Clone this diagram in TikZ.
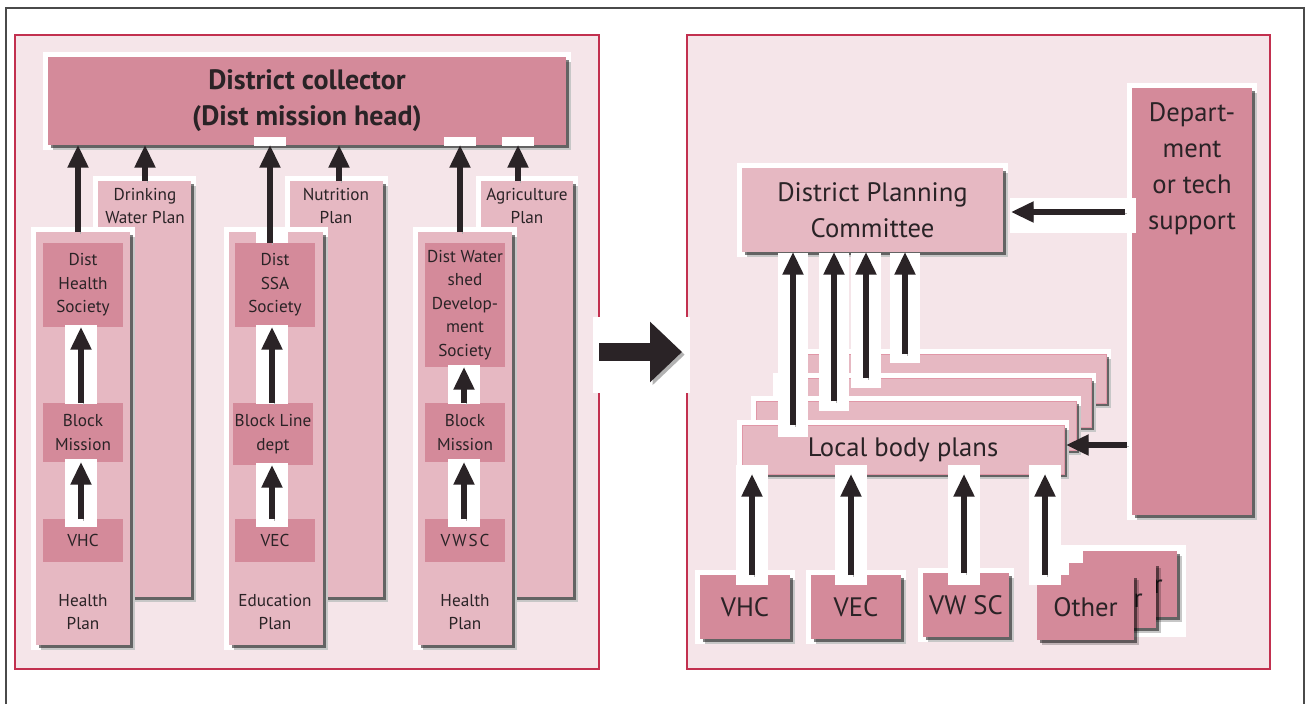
\documentclass[tikz,border=0pt]{standalone}
\usepackage{fontspec}
\setmainfont{PT Sans}
\usetikzlibrary{arrows.meta,shadows}

\definecolor{panelbg}{HTML}{F5E5E9}
\definecolor{panelred}{HTML}{C2304F}
\definecolor{darkpink}{HTML}{D48A9A}
\definecolor{lightpink}{HTML}{E6B8C2}
\definecolor{ink}{HTML}{2A2326}
\definecolor{framegray}{HTML}{4A4A4A}

\newcommand\fsmall{\fontsize{12.9}{17.6}\selectfont}
\newcommand\fhead{\fontsize{21}{27}\selectfont\bfseries}
\newcommand\fbig{\fontsize{20}{27}\selectfont}

% box from (x1,y1) to (x2,y2) in pixel units: style, name, x1, y1, x2, y2, text
\newcommand\bx[7]{\node[#1, minimum width={(#5-#3)*0.75pt}, minimum height={(#6-#4)*0.75pt}] (#2) at ({(#3+#5)/2},{(#4+#6)/2}) {#7};}
% white band behind an arrow: x, y1, y2, width
\newcommand\band[4]{\fill[white] ({#1-#4/2},#2) rectangle ({#1+#4/2},#3);}

\tikzset{
  boxbase/.style={rectangle, inner sep=0pt, outer sep=0pt, align=center, text=ink, font=\fsmall},
  halo/.style={preaction={draw=white, line width=8pt}},
  shade/.style={drop shadow={shadow xshift=4pt, shadow yshift=-4pt, fill=black, opacity=0.22},
                drop shadow={shadow xshift=2.6pt, shadow yshift=-2.6pt, fill=black, opacity=0.5}},
  innerbox/.style={boxbase, fill=darkpink},
  column/.style={boxbase, fill=lightpink, halo, shade},
  headbox/.style={boxbase, fill=darkpink, halo, shade, font=\fhead},
  bigbox/.style={boxbase, fill=lightpink, halo, shade, font=\fbig},
  deptbox/.style={boxbase, fill=darkpink, halo, shade, font=\fbig},
  layer/.style={boxbase, fill=lightpink, draw=panelred!50, line width=0.6pt, halo, shade, font=\fbig},
  unit/.style={boxbase, fill=darkpink, halo, shade, font=\fbig},
  stackunit/.style={boxbase, fill=darkpink, shade, font=\fbig},
  panel/.style={rectangle, inner sep=0pt, outer sep=0pt, fill=panelbg, draw=panelred, line width=1.1pt},
  arr/.style={draw=ink, line width=3.8pt, -{Triangle[width=15pt,length=17pt]},
              preaction={draw=black!30, transform canvas={xshift=1.6pt, yshift=-1.2pt}}},
  bigarr/.style={draw=ink, line width=13.5pt, -{Triangle[width=44pt,length=24pt]},
              preaction={draw=black!30, transform canvas={xshift=2pt, yshift=-2pt}}},
  lbl/.style={align=center, text=ink, font=\fsmall, inner sep=0pt},
}

\begin{document}
\begin{tikzpicture}[x=0.75pt, y=-0.75pt]
\useasboundingbox (0,0) rectangle (1306,704);

% outer frame
\draw[framegray, line width=1.2pt] (6,704) -- (6,8) -- (1304,8) -- (1304,704);

% panels
\bx{panel}{LP}{15}{35}{599}{669}{}
\bx{panel}{RP}{687}{35}{1270}{669}{}

% arrow between the panels
\fill[white] (593,317) rectangle (690,393);
\draw[bigarr, shorten >=3.75pt] (LP.east) -- (RP.west);

% ---------- left panel ----------
\bx{headbox}{DC}{48}{57}{566}{145}{District collector\\(Dist mission head)}

% health column
\bx{column}{DWP}{98}{181}{191}{597}{}
\node[lbl] at (145,206) {Drinking\\Water Plan};
\bx{column}{HPa}{36}{232}{130}{645}{}
\node[lbl] at (83,612) {Health\\Plan};
\bx{innerbox}{DHS}{43}{243}{123}{327}{Dist\\Health\\Society}
\bx{innerbox}{BMa}{43}{403}{123}{462}{Block\\Mission}
\bx{innerbox}{VHCa}{43}{519}{123}{562}{VHC}

% education column
\bx{column}{NP}{290}{181}{383}{597}{}
\node[lbl] at (336,206) {Nutrition\\Plan};
\bx{column}{EP}{229}{232}{323}{645}{}
\node[lbl] at (275,612) {Education\\Plan};
\bx{innerbox}{SSA}{235}{243}{315}{327}{Dist\\SSA\\Society}
\bx{innerbox}{BL}{233}{403}{313}{465}{Block Line\\dept}
\bx{innerbox}{VECa}{235}{519}{315}{562}{VEC}

% watershed column
\bx{column}{AP}{481}{181}{573}{597}{}
\node[lbl] at (527,206) {Agriculture\\Plan};
\bx{column}{HPb}{418}{232}{512}{645}{}
\node[lbl] at (465,612) {Health\\Plan};
\bx{innerbox}{DWS}{425}{243}{505}{367}{Dist Water\\shed\\Develop-\\ment\\Society}
\bx{innerbox}{BMb}{425}{403}{505}{462}{Block\\Mission}
\bx{innerbox}{VWSCa}{425}{519}{505}{562}{V\kern1.5pt W\kern1.5pt S\kern1.5pt C}

% white bands behind the arrows
\band{81}{325}{404}{32}
\band{81}{459}{527}{32}
\band{272}{325}{404}{32}
\band{272}{463}{527}{32}
\band{464}{365}{404}{32}
\band{464}{459}{527}{32}
\band{270}{137}{146}{32}
\band{460}{137}{146}{32}
\band{518}{137}{146}{32}
\band{272}{230}{243}{32}

% arrows into the district collector
\draw[arr] (78,0 |- HPa.north) -- (78,0 |- DC.south);
\draw[arr] (145,0 |- DWP.north) -- (145,0 |- DC.south);
\draw[arr] (270,0 |- SSA.north) -- (270,0 |- DC.south);
\draw[arr] (339,0 |- NP.north) -- (339,0 |- DC.south);
\draw[arr] (460,0 |- HPb.north) -- (460,0 |- DC.south);
\draw[arr] (518,0 |- AP.north) -- (518,0 |- DC.south);

% arrows inside the columns
\draw[arr] (81,0 |- BMa.north) -- (81,0 |- DHS.south);
\draw[arr] (81,0 |- VHCa.north) -- (81,0 |- BMa.south);
\draw[arr] (272,0 |- BL.north) -- (272,0 |- SSA.south);
\draw[arr] (272,0 |- VECa.north) -- (272,0 |- BL.south);
\draw[arr] (464,0 |- BMb.north) -- (464,0 |- DWS.south);
\draw[arr] (464,0 |- VWSCa.north) -- (464,0 |- BMb.south);

% ---------- right panel ----------
\bx{bigbox}{DPC}{742}{168}{1003}{252}{District Planning\\Committee}
\bx{deptbox}{Dept}{1132}{88}{1252}{515}{}
\node[lbl, font=\fbig] at (1192,169) {Depart-\\ment\\or tech\\support};

% stacked local body plans
\bx{layer}{Ld}{800}{354}{1106}{403}{}
\bx{layer}{Lc}{778}{378}{1091}{427}{}
\bx{layer}{Lb}{756}{401}{1076}{450}{}
\bx{layer}{La}{742}{425}{1064}{474}{Local body plans}

% grassroots units
\bx{unit}{VHCb}{700}{575}{790}{639}{VHC}
\bx{unit}{VECb}{811}{575}{901}{639}{VEC}
\bx{unit}{VWSCb}{923}{573}{1009}{637}{VW SC}
\fill[white] (1060,545) rectangle (1186,637);
\bx{stackunit}{Oc}{1083}{551}{1177}{617}{}
\node[lbl, font=\fbig, anchor=base east] at (1163,593) {r};
\bx{stackunit}{Ob}{1069}{563}{1156}{628}{}
\node[lbl, font=\fbig, anchor=base east] at (1143,607) {r};
\fill[white] (1030,570) rectangle (1062,580);
\bx{stackunit}{Oa}{1037}{575}{1134}{640}{Other}

% white bands behind the arrows
\band{793}{253}{437}{30}
\band{834}{253}{411}{30}
\band{866}{253}{388}{30}
\band{905}{253}{363}{30}
\band{752}{465}{585}{32}
\band{851}{465}{585}{32}
\band{964}{465}{585}{32}
\band{1045}{465}{585}{32}
\fill[white] (1010,198) rectangle (1136,233);

% arrows up to the district planning committee
\draw[arr] (793,0 |- La.north) -- (793,0 |- DPC.south);
\draw[arr] (834,0 |- Lb.north) -- (834,0 |- DPC.south);
\draw[arr] (866,0 |- Lc.north) -- (866,0 |- DPC.south);
\draw[arr] (905,0 |- Ld.north) -- (905,0 |- DPC.south);

% arrows from the units to the local body plans
\draw[arr] (752,0 |- VHCb.north) -- (752,0 |- La.south);
\draw[arr] (851,0 |- VECb.north) -- (851,0 |- La.south);
\draw[arr] (964,0 |- VWSCb.north) -- (964,0 |- La.south);
\draw[arr] (1045,0 |- Oa.north) -- (1045,0 |- La.south);

% technical support arrows
\draw[arr, shorten <=5pt, shorten >=6pt] (Dept.west |- 0,212) -- (DPC.east |- 0,212);
\draw[arr, shorten <=4pt, shorten >=1.5pt] (Dept.west |- 0,445) -- (La.east |- 0,445);
\end{tikzpicture}
\end{document}
